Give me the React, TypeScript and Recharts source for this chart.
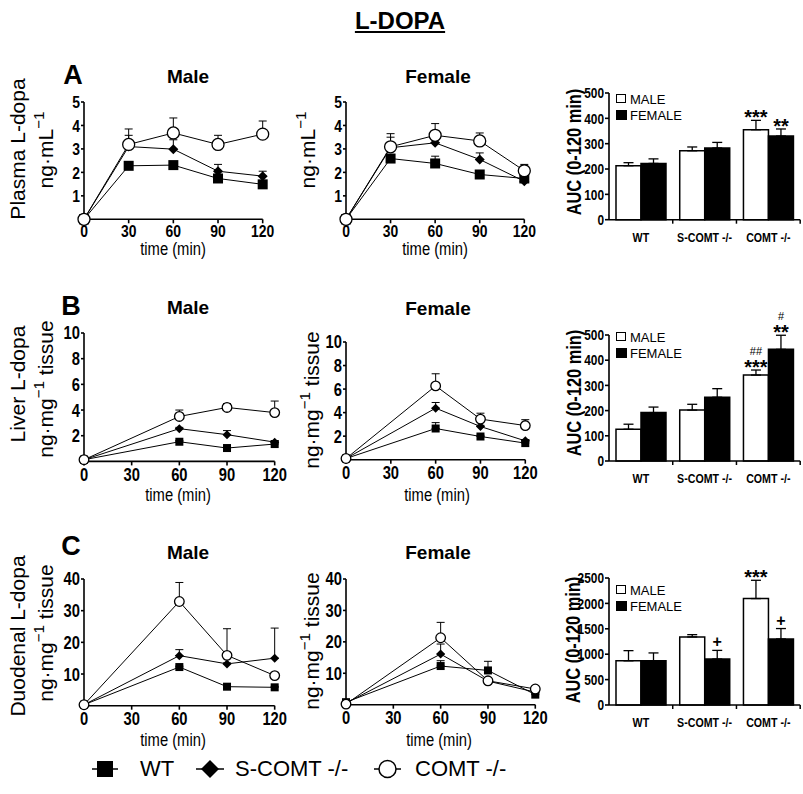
import React from 'react';
import { LineChart, Line, XAxis, YAxis, ErrorBar, BarChart, Bar, LabelList } from 'recharts';

const SANS = "'Liberation Sans', Arial, sans-serif";
const NARROW_SCALE = 0.82;

// ---------- time axes ----------
const timesPlasma = [0, 30, 60, 90, 120];
const timesTissue = [0, 60, 90, 120];
const timeTicks = [0, 30, 60, 90, 120];

// ---------- A: plasma L-dopa (ng/mL) ----------
const plasmaMaleWT = [0, 2.28, 2.31, 1.74, 1.49];
const plasmaMaleWTErr = [0, 0.08, 0.08, 0.08, 0.06];
const plasmaMaleS = [0, 3.1, 2.99, 2.05, 1.84];
const plasmaMaleSErr = [0, 0.48, 0.4, 0.29, 0.21];
const plasmaMaleC = [0, 3.19, 3.68, 3.19, 3.63];
const plasmaMaleCErr = [0, 0.66, 0.64, 0.39, 0.56];

const plasmaFemaleWT = [0, 2.59, 2.38, 1.91, 1.74];
const plasmaFemaleWTErr = [0, 0.08, 0.31, 0.08, 0.08];
const plasmaFemaleS = [0, 3.05, 3.26, 2.55, 1.62];
const plasmaFemaleSErr = [0, 0.45, 0.12, 0.28, 0.12];
const plasmaFemaleC = [0, 3.09, 3.58, 3.34, 2.07];
const plasmaFemaleCErr = [0, 0.56, 0.5, 0.34, 0.27];

// ---------- B: liver L-dopa (ng/mg tissue) ----------
const liverMaleWT = [0.13, 1.53, 1.04, 1.35];
const liverMaleWTErr = [0, 0.1, 0.1, 0.1];
const liverMaleS = [0.13, 2.55, 2.08, 1.5];
const liverMaleSErr = [0, 0.1, 0.32, 0.1];
const liverMaleC = [0.13, 3.5, 4.2, 3.8];
const liverMaleCErr = [0, 0.5, 0.3, 0.9];

const liverFemaleWT = [0.1, 2.65, 1.97, 1.41];
const liverFemaleWTErr = [0, 0.5, 0.1, 0.1];
const liverFemaleS = [0.1, 4.38, 2.82, 1.6];
const liverFemaleSErr = [0, 0.48, 0.1, 0.1];
const liverFemaleC = [0.1, 6.27, 3.45, 2.9];
const liverFemaleCErr = [0, 1.03, 0.5, 0.5];

// ---------- C: duodenal L-dopa (ng/mg tissue) ----------
const duoMaleWT = [0.3, 12.2, 6.0, 5.8];
const duoMaleWTErr = [0, 0.3, 0.3, 0.3];
const duoMaleS = [0.3, 15.8, 13.2, 15.0];
const duoMaleSErr = [0, 1.9, 0.3, 9.5];
const duoMaleC = [0.3, 32.9, 15.9, 9.5];
const duoMaleCErr = [0, 6.0, 8.4, 0.3];

const duoFemaleWT = [0.8, 12.3, 10.9, 3.2];
const duoFemaleWTErr = [0, 1.7, 2.9, 0.3];
const duoFemaleS = [0.5, 16.1, 7.5, 4.0];
const duoFemaleSErr = [0, 3.2, 0.3, 0.3];
const duoFemaleC = [0.2, 21.3, 7.6, 5.0];
const duoFemaleCErr = [0, 4.9, 0.3, 0.3];

// ---------- AUC bars ----------
const barGroups = ['WT', 'S-COMT -/-', 'COMT -/-'];

const aucPlasmaMale = [213, 272, 355];
const aucPlasmaMaleErr = [12, 15, 37];
const aucPlasmaFemale = [222, 283, 330];
const aucPlasmaFemaleErr = [18, 22, 28];
const aucPlasmaMaleSig = ['', '', '***'];
const aucPlasmaMaleSig2 = ['', '', ''];
const aucPlasmaFemaleSig = ['', '', '**'];
const aucPlasmaFemaleSig2 = ['', '', ''];

const aucLiverMale = [126, 202, 341];
const aucLiverMaleErr = [20, 23, 20];
const aucLiverFemale = [192, 253, 443];
const aucLiverFemaleErr = [22, 34, 56];
const aucLiverMaleSig = ['', '', '***'];
const aucLiverMaleSig2 = ['', '', '##'];
const aucLiverFemaleSig = ['', '', '**'];
const aucLiverFemaleSig2 = ['', '', '#'];

const aucDuoMale = [870, 1340, 2095];
const aucDuoMaleErr = [200, 45, 360];
const aucDuoFemale = [870, 905, 1300];
const aucDuoFemaleErr = [155, 170, 205];
const aucDuoMaleSig = ['', '', '***'];
const aucDuoMaleSig2 = ['', '', ''];
const aucDuoFemaleSig = ['', '+', '+'];
const aucDuoFemaleSig2 = ['', '', ''];

const plasmaTicks = [1, 2, 3, 4, 5];
const liverTicks = [2, 4, 6, 8, 10];
const duoTicks = [10, 20, 30, 40];
const aucTicks500 = [0, 100, 200, 300, 400, 500];
const aucTicks2500 = [0, 500, 1000, 1500, 2000, 2500];

// ---------- helpers ----------
function buildLineData(times: number[], wt: number[], wtE: number[], s: number[], sE: number[], c: number[], cE: number[]) {
  return times.map((t, i) => ({
    t,
    wt: wt[i],
    s: s[i],
    c: c[i],
    wtE: [0, wtE[i]],
    sE: [0, sE[i]],
    cE: [0, cE[i]],
  }));
}

function buildBarData(m: number[], mE: number[], f: number[], fE: number[]) {
  return barGroups.map((g, i) => ({ g, m: m[i], f: f[i], mE: [0, mE[i]], fE: [0, fE[i]] }));
}

const axisStyle = { stroke: '#000', strokeWidth: 1.6 };

// narrow bold tick text (condensed by horizontal scaling)
const NTick = (props: any) => {
  const { x, y, payload, fs, axis } = props;
  const anchor = axis === 'y' ? 'end' : 'middle';
  const dy = axis === 'y' ? '0.36em' : '0.71em';
  return (
    <text transform={`translate(${x},${y}) scale(${NARROW_SCALE},1)`} x={0} y={0} dy={dy} textAnchor={anchor}
      fontSize={fs} fontWeight="bold" fontFamily={SANS} fill="#000">
      {payload.value}
    </text>
  );
};

const squareDot = (size: number) => (p: any) => {
  if (p.cx == null || p.cy == null) return <g key={`sq-${p.index}`} />;
  return <rect key={`sq-${p.index}`} x={p.cx - size / 2} y={p.cy - size / 2} width={size} height={size} fill="#000" />;
};
const diamondDot = (h: number) => (p: any) => {
  if (p.cx == null || p.cy == null) return <g key={`dm-${p.index}`} />;
  const { cx, cy } = p;
  return <polygon key={`dm-${p.index}`} points={`${cx},${cy - h} ${cx + h},${cy} ${cx},${cy + h} ${cx - h},${cy}`} fill="#000" />;
};
const circleDot = (r: number) => (p: any) => {
  if (p.cx == null || p.cy == null) return <g key={`ci-${p.index}`} />;
  return <circle key={`ci-${p.index}`} cx={p.cx} cy={p.cy} r={r} fill="#fff" stroke="#000" strokeWidth={1.3} />;
};

type LinePanelProps = {
  x0: number; x1: number; yTop: number; y0: number;
  yMax: number; yTicks: number[]; data: any[];
  fontSize: number; sq: number; dm: number; cr: number; tm: number;
};

function LinePanel({ x0, x1, yTop, y0, yMax, yTicks, data, fontSize, sq, dm, cr, tm }: LinePanelProps) {
  const ml = 44, mt = 12, mr = 16, xh = 34;
  const plotW = x1 - x0, plotH = y0 - yTop;
  const width = ml + plotW + mr;
  const height = mt + plotH + xh;
  const eb = (key: string) => <ErrorBar dataKey={key} direction="y" width={4} stroke="#000" strokeWidth={1} />;
  return (
    <div style={{ position: 'absolute', left: x0 - ml, top: yTop - mt }}>
      <LineChart width={width} height={height} data={data} margin={{ top: mt, right: mr, left: 0, bottom: 0 }}>
        <XAxis dataKey="t" type="number" domain={[0, 120]} ticks={timeTicks} interval={0} height={xh}
          tickSize={4} tickMargin={tm} axisLine={axisStyle} tickLine={axisStyle} tick={<NTick fs={fontSize} axis="x" />} />
        <YAxis type="number" domain={[0, yMax]} ticks={yTicks} interval={0} width={ml}
          tickSize={3} tickMargin={1} axisLine={axisStyle} tickLine={axisStyle} tick={<NTick fs={fontSize} axis="y" />} />
        <Line dataKey="wt" stroke="#000" strokeWidth={1} dot={false} activeDot={false} isAnimationActive={false}>{eb('wtE')}</Line>
        <Line dataKey="s" stroke="#000" strokeWidth={1} dot={false} activeDot={false} isAnimationActive={false}>{eb('sE')}</Line>
        <Line dataKey="c" stroke="#000" strokeWidth={1} dot={false} activeDot={false} isAnimationActive={false}>{eb('cE')}</Line>
        <Line dataKey="wt" stroke="none" dot={squareDot(sq)} activeDot={false} isAnimationActive={false} />
        <Line dataKey="s" stroke="none" dot={diamondDot(dm)} activeDot={false} isAnimationActive={false} />
        <Line dataKey="c" stroke="none" dot={circleDot(cr)} activeDot={false} isAnimationActive={false} />
      </LineChart>
    </div>
  );
}

const makeSig = (vals: number[], errs: number[], sig: string[], sig2: string[]) => (props: any) => {
  const vb = props.viewBox || props;
  const i = props.index;
  if (i == null || (!sig[i] && !sig2[i])) return <g />;
  const x = vb.x + vb.width / 2;
  const errTop = vb.y - (Math.abs(vb.height) * errs[i]) / vals[i];
  const isPlus = sig[i].startsWith('+');
  return (
    <g>
      {sig[i] ? (
        <text x={x} y={isPlus ? errTop - 3 : errTop + 4} textAnchor="middle" fontSize={isPlus ? 16 : 20}
          fontWeight="bold" fontFamily={SANS} fill="#000">{sig[i]}</text>
      ) : null}
      {sig2[i] ? (
        <text x={x} y={errTop - 15} textAnchor="middle" fontSize={11} fontFamily={SANS} fill="#000">{sig2[i]}</text>
      ) : null}
    </g>
  );
};

const BarTick = (props: any) => {
  const { x, y, payload } = props;
  const off = payload && payload.offset ? payload.offset : 0;
  return (
    <g>
      {off ? <line x1={x + off} x2={x + off} y1={y - 13} y2={y - 9} stroke="#000" strokeWidth={1.5} /> : null}
      <text transform={`translate(${x},${y}) scale(${NARROW_SCALE},1)`} x={0} y={0} dy="0.71em" textAnchor="middle"
        fontSize={13} fontWeight="bold" fontFamily={SANS} fill="#000">
        {payload.value}
      </text>
    </g>
  );
};

type BarPanelProps = {
  yTop: number; y0: number; yMax: number; yTicks: number[];
  m: number[]; mE: number[]; f: number[]; fE: number[];
  mS: string[]; mS2: string[]; fS: string[]; fS2: string[];
};

function BarPanel({ yTop, y0, yMax, yTicks, m, mE, f, fE, mS, mS2, fS, fS2 }: BarPanelProps) {
  const x0 = 609.3, x1 = 800.5;
  const ml = 44, mt = 30, mr = 1, xh = 30;
  const plotW = x1 - x0, plotH = y0 - yTop;
  const width = ml + plotW + mr;
  const height = mt + plotH + xh;
  const data = buildBarData(m, mE, f, fE);
  return (
    <div style={{ position: 'absolute', left: x0 - ml, top: yTop - mt }}>
      <BarChart width={width} height={height} data={data} margin={{ top: mt, right: mr, left: 0, bottom: 0 }}
        barGap={0} barCategoryGap={0}>
        <XAxis dataKey="g" type="category" height={xh} tickSize={4} tickMargin={9} interval={0}
          axisLine={axisStyle} tickLine={false} tick={<BarTick />} />
        <YAxis type="number" domain={[0, yMax]} ticks={yTicks} interval={0} width={ml}
          tickSize={4} tickMargin={1} axisLine={axisStyle} tickLine={axisStyle} tick={<NTick fs={14.5} axis="y" />} />
        <Bar dataKey="m" fill="#fff" stroke="#000" strokeWidth={1.5} barSize={25} isAnimationActive={false}>
          <ErrorBar dataKey="mE" direction="y" width={5} stroke="#000" strokeWidth={1.3} />
          <LabelList dataKey="m" content={makeSig(m, mE, mS, mS2)} />
        </Bar>
        <Bar dataKey="f" fill="#000" stroke="#000" strokeWidth={1.5} barSize={25} isAnimationActive={false}>
          <ErrorBar dataKey="fE" direction="y" width={5} stroke="#000" strokeWidth={1.3} />
          <LabelList dataKey="f" content={makeSig(f, fE, fS, fS2)} />
        </Bar>
      </BarChart>
    </div>
  );
}

const T = ({ x, y, style, children, narrow }: any) => (
  <div style={{ position: 'absolute', left: x, top: y, transform: `translate(-50%, -50%)${narrow ? ` scaleX(${NARROW_SCALE})` : ''}`, whiteSpace: 'nowrap', lineHeight: 1, color: '#000', ...style }}>
    {children}
  </div>
);
const R = ({ x, y, style, children, narrow }: any) => (
  <div style={{ position: 'absolute', left: x, top: y, transform: `translate(-50%, -50%) rotate(-90deg)${narrow ? ` scaleX(${NARROW_SCALE})` : ''}`, whiteSpace: 'nowrap', lineHeight: 1, color: '#000', ...style }}>
    {children}
  </div>
);

const yLab = { fontFamily: SANS, fontSize: 21 };
const sup = <sup style={{ fontSize: '0.72em', verticalAlign: '0.55em', lineHeight: 0 }}>−1</sup>;
const titleSt = { fontFamily: SANS, fontSize: 19, fontWeight: 'bold' as const };
const letterSt = { fontFamily: SANS, fontSize: 27, fontWeight: 'bold' as const };
const timeSt = { fontFamily: SANS, fontSize: 18 };
const aucSt = { fontFamily: SANS, fontSize: 20, fontWeight: 'bold' as const };
const legTxt = { position: 'absolute' as const, left: 630, fontFamily: SANS, fontSize: 13, lineHeight: 1, whiteSpace: 'nowrap' as const, transform: 'translateY(-50%)' };

const BarLegend = ({ y }: { y: number }) => (
  <>
    <div style={{ position: 'absolute', left: 616, top: y - 5, width: 8, height: 7, border: '1.5px solid #000', background: '#fff' }} />
    <div style={{ ...legTxt, top: y }}>MALE</div>
    <div style={{ position: 'absolute', left: 616, top: y + 11, width: 11, height: 10, background: '#000' }} />
    <div style={{ ...legTxt, top: y + 16 }}>FEMALE</div>
  </>
);

const botTxt = { position: 'absolute' as const, top: 769, transform: 'translateY(-50%)', fontFamily: SANS, fontSize: 22, lineHeight: 1, whiteSpace: 'nowrap' as const };

export default function App() {
  const aMale = buildLineData(timesPlasma, plasmaMaleWT, plasmaMaleWTErr, plasmaMaleS, plasmaMaleSErr, plasmaMaleC, plasmaMaleCErr);
  const aFemale = buildLineData(timesPlasma, plasmaFemaleWT, plasmaFemaleWTErr, plasmaFemaleS, plasmaFemaleSErr, plasmaFemaleC, plasmaFemaleCErr);
  const bMale = buildLineData(timesTissue, liverMaleWT, liverMaleWTErr, liverMaleS, liverMaleSErr, liverMaleC, liverMaleCErr);
  const bFemale = buildLineData(timesTissue, liverFemaleWT, liverFemaleWTErr, liverFemaleS, liverFemaleSErr, liverFemaleC, liverFemaleCErr);
  const cMale = buildLineData(timesTissue, duoMaleWT, duoMaleWTErr, duoMaleS, duoMaleSErr, duoMaleC, duoMaleCErr);
  const cFemale = buildLineData(timesTissue, duoFemaleWT, duoFemaleWTErr, duoFemaleS, duoFemaleSErr, duoFemaleC, duoFemaleCErr);

  return (
    <div style={{ position: 'absolute', left: 0, top: 0, width: 803, height: 794, background: '#fff', overflow: 'hidden' }}>
      <T x={400} y={21} style={{ fontFamily: SANS, fontSize: 24, fontWeight: 'bold', textDecoration: 'underline' }}>L-DOPA</T>

      {/* Row A */}
      <T x={73} y={75} style={letterSt}>A</T>
      <T x={188} y={76} style={titleSt}>Male</T>
      <T x={438} y={76} style={titleSt}>Female</T>
      <R x={17} y={149} style={yLab}>Plasma L-dopa</R>
      <R x={45} y={150} style={yLab}>ng·mL{sup}</R>
      <R x={307} y={150} style={yLab}>ng·mL{sup}</R>
      <LinePanel x0={84.3} x1={263} yTop={101.7} y0={219} yMax={5} yTicks={plasmaTicks} data={aMale} fontSize={17} sq={10} dm={5} cr={6} tm={2} />
      <LinePanel x0={345.7} x1={524} yTop={101.7} y0={219} yMax={5} yTicks={plasmaTicks} data={aFemale} fontSize={17} sq={10} dm={5} cr={6} tm={2} />
      <T x={173} y={249} style={timeSt} narrow>time (min)</T>
      <T x={435} y={249} style={timeSt} narrow>time (min)</T>
      <R x={574} y={152} style={aucSt} narrow>AUC (0-120 min)</R>
      <BarPanel yTop={93.3} y0={220} yMax={500} yTicks={aucTicks500}
        m={aucPlasmaMale} mE={aucPlasmaMaleErr} f={aucPlasmaFemale} fE={aucPlasmaFemaleErr}
        mS={aucPlasmaMaleSig} mS2={aucPlasmaMaleSig2} fS={aucPlasmaFemaleSig} fS2={aucPlasmaFemaleSig2} />
      <BarLegend y={99} />

      {/* Row B */}
      <T x={71} y={306} style={letterSt}>B</T>
      <T x={188} y={307} style={titleSt}>Male</T>
      <T x={438} y={308} style={titleSt}>Female</T>
      <R x={17} y={384} style={yLab}>Liver L-dopa</R>
      <R x={45} y={389} style={yLab}>ng·mg{sup} tissue</R>
      <R x={311} y={400} style={yLab}>ng·mg{sup} tissue</R>
      <LinePanel x0={84.3} x1={275} yTop={333.3} y0={461.7} yMax={10} yTicks={liverTicks} data={bMale} fontSize={18} sq={8} dm={4.5} cr={4.8} tm={3} />
      <LinePanel x0={345.7} x1={525} yTop={342.3} y0={460} yMax={10} yTicks={liverTicks} data={bFemale} fontSize={18} sq={8} dm={4.5} cr={4.8} tm={3} />
      <T x={178} y={495} style={timeSt} narrow>time (min)</T>
      <T x={437} y={495} style={timeSt} narrow>time (min)</T>
      <R x={574} y={393} style={aucSt} narrow>AUC (0-120 min)</R>
      <BarPanel yTop={335} y0={461} yMax={500} yTicks={aucTicks500}
        m={aucLiverMale} mE={aucLiverMaleErr} f={aucLiverFemale} fE={aucLiverFemaleErr}
        mS={aucLiverMaleSig} mS2={aucLiverMaleSig2} fS={aucLiverFemaleSig} fS2={aucLiverFemaleSig2} />
      <BarLegend y={337} />

      {/* Row C */}
      <T x={71} y={546} style={letterSt}>C</T>
      <T x={188} y={552} style={titleSt}>Male</T>
      <T x={438} y={552} style={titleSt}>Female</T>
      <R x={17} y={636} style={yLab}>Duodenal L-dopa</R>
      <R x={45} y={633} style={yLab}>ng·mg{sup} tissue</R>
      <R x={311} y={641} style={yLab}>ng·mg{sup} tissue</R>
      <LinePanel x0={84.3} x1={275} yTop={579.3} y0={706} yMax={40} yTicks={duoTicks} data={cMale} fontSize={18} sq={8} dm={4.5} cr={4.8} tm={3} />
      <LinePanel x0={345.7} x1={535} yTop={579.3} y0={705} yMax={40} yTicks={duoTicks} data={cFemale} fontSize={18} sq={8} dm={4.5} cr={4.8} tm={3} />
      <T x={173} y={740} style={timeSt} narrow>time (min)</T>
      <T x={439} y={740} style={timeSt} narrow>time (min)</T>
      <R x={573} y={640} style={aucSt} narrow>AUC (0-120 min)</R>
      <BarPanel yTop={578.3} y0={705.3} yMax={2500} yTicks={aucTicks2500}
        m={aucDuoMale} mE={aucDuoMaleErr} f={aucDuoFemale} fE={aucDuoFemaleErr}
        mS={aucDuoMaleSig} mS2={aucDuoMaleSig2} fS={aucDuoFemaleSig} fS2={aucDuoFemaleSig2} />
      <BarLegend y={590} />

      {/* Bottom legend */}
      <svg style={{ position: 'absolute', left: 0, top: 755 }} width={420} height={30}>
        <line x1={92} x2={118} y1={14} y2={14} stroke="#000" strokeWidth={1.5} />
        <rect x={97} y={6} width={16} height={16} fill="#000" />
        <line x1={196} x2={224} y1={14} y2={14} stroke="#000" strokeWidth={1.5} />
        <polygon points="210,5 219,14 210,23 201,14" fill="#000" />
        <line x1={374} x2={401} y1={14} y2={14} stroke="#000" strokeWidth={1.5} />
        <circle cx={387.5} cy={14} r={8.5} fill="#fff" stroke="#000" strokeWidth={1.5} />
      </svg>
      <div style={{ ...botTxt, left: 140 }}>WT</div>
      <div style={{ ...botTxt, left: 235 }}>S-COMT -/-</div>
      <div style={{ ...botTxt, left: 415 }}>COMT -/-</div>
    </div>
  );
}
